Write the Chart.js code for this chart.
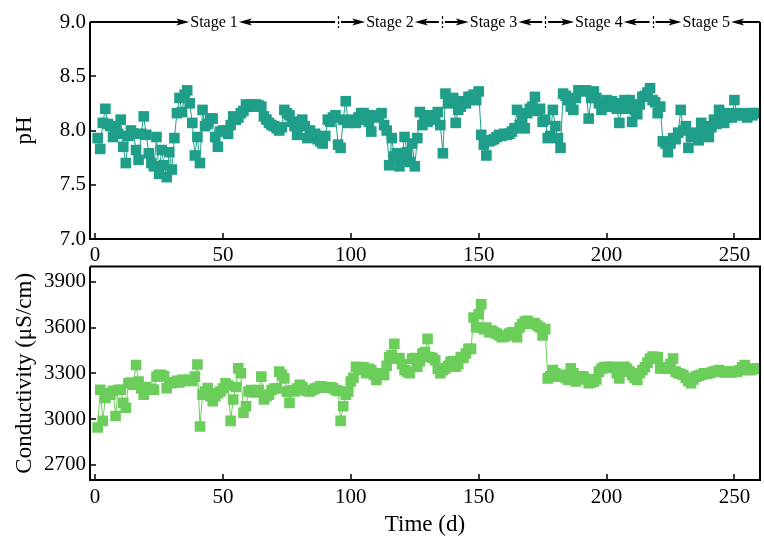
<!DOCTYPE html>
<html>
<head>
<meta charset="utf-8">
<script src="https://cdn.jsdelivr.net/npm/chart.js@4.4.1/dist/chart.umd.min.js"></script>
<style>
  body { margin: 0; background: #fff; width: 764px; height: 539px; overflow: hidden; position: relative; }
  #top { position: absolute; left: 0; top: 0; width: 764px; height: 265px; }
  #bottom { position: absolute; left: 0; top: 250px; width: 764px; height: 289px; }
</style>
</head>
<body>
<div id="top"><canvas id="ph-chart"></canvas></div>
<div id="bottom"><canvas id="cond-chart"></canvas></div>
<script>
// Sampling days (d)
const days = [
  1,2,3,4,5,6,7,8,9,10,11,12,13,14,15,16,17,18,19,20,21,22,23,24,25,26,27,28,29,30,
  31,32,33,34,35,36,37,38,39,40,41,42,43,44,45,46,47,48,49,50,51,52,53,54,55,56,57,58,59,60,
  61,62,63,64,65,66,67,68,69,70,71,72,73,74,75,76,77,78,79,80,81,82,83,84,85,86,87,88,89,90,
  91,92,93,94,95,96,97,98,99,100,101,102,103,104,105,106,107,108,109,110,111,112,113,114,115,116,117,118,119,120,
  121,122,123,124,125,126,127,128,129,130,131,132,133,134,135,136,137,138,139,140,141,142,143,144,145,146,147,148,149,150,
  151,152,153,154,155,156,157,158,159,160,161,162,163,164,165,166,167,168,169,170,171,172,173,174,175,176,177,178,179,180,
  181,182,183,184,185,186,187,188,189,190,191,192,193,194,195,196,197,198,199,200,201,202,203,204,205,206,207,208,209,210,
  211,212,213,214,215,216,217,218,219,220,221,222,223,224,225,226,227,228,229,230,231,232,233,234,235,236,237,238,239,240,
  241,242,243,244,245,246,247,248,249,250,251,252,253,254,255,256,257,258,259
];

const phValues = [
  7.93,7.83,8.07,8.20,8.06,8.04,7.94,8.02,7.97,8.10,7.85,7.70,7.95,8.00,7.97,7.82,7.73,7.97,8.13,7.96,7.79,7.70,7.67,7.94,7.60,7.82,7.68,7.57,7.80,7.64,
  7.93,8.16,8.30,8.17,8.33,8.37,8.25,8.07,7.77,7.94,7.70,8.19,8.04,8.06,8.11,8.11,7.94,7.85,7.99,8.00,8.00,7.97,8.05,8.13,8.10,8.12,8.16,8.18,8.24,8.22,
  8.24,8.22,8.24,8.23,8.22,8.13,8.10,8.07,8.05,8.04,8.02,8.00,8.03,8.19,8.16,8.14,8.08,8.04,7.96,8.08,8.10,8.04,7.93,8.00,7.95,7.97,7.92,7.90,7.88,7.95,
  8.10,8.08,8.12,8.14,7.87,7.84,8.10,8.27,8.07,8.08,8.10,8.07,8.12,8.16,8.16,8.10,8.08,7.99,8.14,8.12,8.14,8.16,8.05,8.00,7.68,7.93,7.76,7.79,7.67,7.75,
  7.94,7.80,7.71,7.88,7.67,7.93,8.17,8.05,8.10,8.08,8.14,8.12,8.10,8.17,8.05,7.79,8.34,8.25,8.28,8.30,8.07,8.19,8.22,8.27,8.25,8.31,8.31,8.33,8.28,8.36,
  7.96,7.87,7.77,7.90,7.91,7.92,7.94,7.96,7.95,7.97,7.96,7.97,7.99,8.02,8.19,8.05,8.10,8.02,8.16,8.20,8.22,8.31,8.18,8.20,8.08,8.10,7.93,7.95,8.19,8.04,
  7.93,7.84,8.34,8.32,8.28,8.22,8.19,8.30,8.37,8.37,8.36,8.37,8.11,8.30,8.36,8.30,8.25,8.19,8.22,8.28,8.22,8.27,8.24,8.20,8.07,8.25,8.28,8.20,8.28,8.08,
  8.19,8.15,8.24,8.31,8.32,8.35,8.39,8.28,8.26,8.16,8.22,7.90,7.88,7.80,7.88,7.93,7.92,7.98,8.19,8.00,8.04,7.84,7.94,7.96,7.98,7.91,8.07,8.00,8.04,7.94,
  8.03,8.10,8.06,8.19,8.10,8.07,8.12,8.16,8.12,8.28,8.14,8.16,8.14,8.15,8.12,8.16,8.14,8.16,8.16
];

const condValues = [
  2944,3192,2988,3138,3170,3160,3185,3020,3190,3192,3106,3074,3235,3240,3225,3354,3246,3200,3160,3210,3200,3195,3192,3278,3290,3289,3280,3203,3240,3235,
  3240,3250,3240,3257,3250,3255,3257,3250,3278,3358,2951,3160,3180,3203,3150,3117,3150,3170,3181,3200,3235,3220,2988,3128,3210,3332,3300,3041,3084,3181,
  3190,3175,3181,3190,3278,3128,3150,3160,3190,3200,3200,3311,3290,3267,3180,3106,3190,3181,3200,3225,3210,3190,3185,3181,3190,3200,3205,3214,3210,3210,
  3205,3208,3203,3190,3185,2988,3084,3160,3180,3246,3270,3343,3340,3320,3340,3300,3330,3320,3290,3257,3300,3290,3289,3350,3407,3420,3493,3396,3400,3360,
  3321,3310,3300,3396,3400,3343,3380,3429,3440,3526,3407,3400,3386,3330,3300,3320,3332,3350,3375,3380,3343,3360,3407,3400,3430,3461,3460,3666,3601,3687,
  3752,3590,3600,3569,3580,3569,3560,3550,3537,3540,3548,3560,3569,3560,3537,3600,3623,3640,3644,3630,3623,3630,3612,3600,3548,3590,3267,3280,3321,3300,
  3280,3278,3290,3270,3257,3332,3300,3246,3270,3280,3278,3260,3235,3240,3246,3260,3311,3330,3340,3343,3340,3335,3343,3300,3267,3320,3343,3330,3311,3290,
  3270,3257,3300,3321,3340,3370,3396,3410,3400,3407,3332,3340,3330,3332,3360,3396,3311,3300,3295,3289,3270,3250,3235,3260,3278,3285,3290,3300,3295,3300,
  3305,3311,3315,3321,3310,3305,3310,3311,3305,3310,3311,3320,3340,3354,3330,3321,3325,3330,3332
];

const xTicks = [0, 50, 100, 150, 200, 250];
const phTicks = [7.0, 7.5, 8.0, 8.5, 9.0];
const condTicks = [2700, 3000, 3300, 3600, 3900];

// Stage labels along the top of the pH panel, split at these days
const stageNames = ['Stage 1', 'Stage 2', 'Stage 3', 'Stage 4', 'Stage 5'];
const stageSplits = [95, 135.6, 176, 218];

const FONT = "'Liberation Serif', 'Times New Roman', serif";

// Frame, inward tick marks and (optionally) the stage arrows on top
const framePlugin = {
  id: 'frame',
  afterDatasetsDraw(chart, args, opts) {
    const { ctx, chartArea: a, scales } = chart;
    ctx.save();
    ctx.strokeStyle = '#000';
    ctx.lineWidth = 2;
    ctx.beginPath();
    ctx.moveTo(a.left, a.top);
    ctx.lineTo(a.left, a.bottom);
    ctx.lineTo(a.right, a.bottom);
    ctx.lineTo(a.right, a.top);
    if (!opts.stages) ctx.lineTo(a.left, a.top);
    ctx.stroke();

    ctx.lineWidth = 1.5;
    ctx.beginPath();
    scales.x.ticks.forEach(t => {
      const px = Math.round(scales.x.getPixelForValue(t.value));
      ctx.moveTo(px, a.bottom);
      ctx.lineTo(px, a.bottom - 6);
    });
    scales.y.ticks.forEach(t => {
      const py = Math.round(scales.y.getPixelForValue(t.value));
      ctx.moveTo(a.left, py);
      ctx.lineTo(a.left + 6, py);
    });
    ctx.stroke();

    if (opts.stages) drawStages(ctx, a, scales.x);
    ctx.restore();
  }
};

function arrowHead(ctx, tipX, y, dir) {
  ctx.beginPath();
  ctx.moveTo(tipX, y);
  ctx.lineTo(tipX - dir * 13, y - 3.5);
  ctx.lineTo(tipX - dir * 10, y);
  ctx.lineTo(tipX - dir * 13, y + 3.5);
  ctx.closePath();
  ctx.fill();
}

function drawStages(ctx, a, xs) {
  const y = a.top;
  const edges = [a.left, ...stageSplits.map(d => xs.getPixelForValue(d)), a.right];
  ctx.font = '16px ' + FONT;
  ctx.fillStyle = '#000';
  ctx.textAlign = 'center';
  ctx.textBaseline = 'middle';
  stageNames.forEach((name, i) => {
    const x0 = edges[i] + (i > 0 ? 3 : 0);
    const x1 = edges[i + 1] - (i < stageNames.length - 1 ? 3 : 0);
    const cx = (edges[i] + edges[i + 1]) / 2;
    const w = ctx.measureText(name).width;
    const l = cx - w / 2 - 1;
    const r = cx + w / 2 + 1;
    ctx.lineWidth = 2;
    ctx.beginPath();
    ctx.moveTo(x0, y); ctx.lineTo(l - 10, y);
    ctx.moveTo(r + 10, y); ctx.lineTo(x1, y);
    ctx.stroke();
    arrowHead(ctx, l, y, 1);
    arrowHead(ctx, r, y, -1);
    ctx.fillText(name, cx, y + 1);
  });
  ctx.lineWidth = 1.2;
  ctx.setLineDash([3, 2]);
  ctx.beginPath();
  stageSplits.forEach(d => {
    const px = Math.round(xs.getPixelForValue(d)) + 0.5;
    ctx.moveTo(px, y - 6);
    ctx.lineTo(px, y + 6);
  });
  ctx.stroke();
  ctx.setLineDash([]);
}

function makeChart(id, values, color, yMin, yMax, yTickList, yTitle, fmt, opts) {
  return new Chart(document.getElementById(id), {
    type: 'line',
    data: {
      datasets: [{
        data: days.map((d, i) => ({ x: d, y: values[i] })),
        borderColor: color,
        backgroundColor: color,
        borderWidth: 1,
        pointStyle: 'rect',
        pointRadius: 7.5,
        pointBorderWidth: 0,
        tension: 0
      }]
    },
    plugins: [framePlugin],
    options: {
      responsive: true,
      maintainAspectRatio: false,
      devicePixelRatio: 1,
      animation: false,
      layout: { autoPadding: false, padding: { left: 0, right: 4, top: opts.padTop, bottom: 0 } },
      plugins: {
        legend: { display: false },
        tooltip: { enabled: false },
        frame: { stages: opts.stages }
      },
      scales: {
        x: {
          type: 'linear',
          min: -2,
          max: 260,
          afterBuildTicks: s => { s.ticks = xTicks.map(v => ({ value: v })); },
          afterFit: s => { s.height = opts.xHeight; s.paddingLeft = 0; s.paddingRight = 0; },
          grid: { display: false, drawTicks: false },
          border: { display: false },
          ticks: { color: '#000', font: { family: FONT, size: 21 }, padding: opts.xPad, maxRotation: 0 },
          title: {
            display: opts.xTitle,
            text: 'Time (d)',
            color: '#000',
            font: { family: FONT, size: 23 },
            padding: { top: 0, bottom: 0 }
          }
        },
        y: {
          min: yMin,
          max: yMax,
          afterBuildTicks: s => { s.ticks = yTickList.map(v => ({ value: v })); },
          afterFit: s => { s.width = 90; },
          grid: { display: false, drawTicks: false },
          border: { display: false },
          ticks: { color: '#000', font: { family: FONT, size: 21 }, padding: 4, callback: fmt },
          title: {
            display: true,
            text: yTitle,
            color: '#000',
            font: { family: FONT, size: 23 },
            padding: { top: 11, bottom: 0 }
          }
        }
      }
    }
  });
}

makeChart('ph-chart', phValues, '#1f9e89', 7, 9, phTicks, 'pH', v => v.toFixed(1),
  { padTop: 22, xHeight: 26, xPad: 4, xTitle: false, stages: true });

makeChart('cond-chart', condValues, '#6bcd5a', 2600, 4000, condTicks, 'Conductivity (μS/cm)', v => v,
  { padTop: 13, xHeight: 59, xPad: 5, xTitle: true, stages: false });
</script>
</body>
</html>
